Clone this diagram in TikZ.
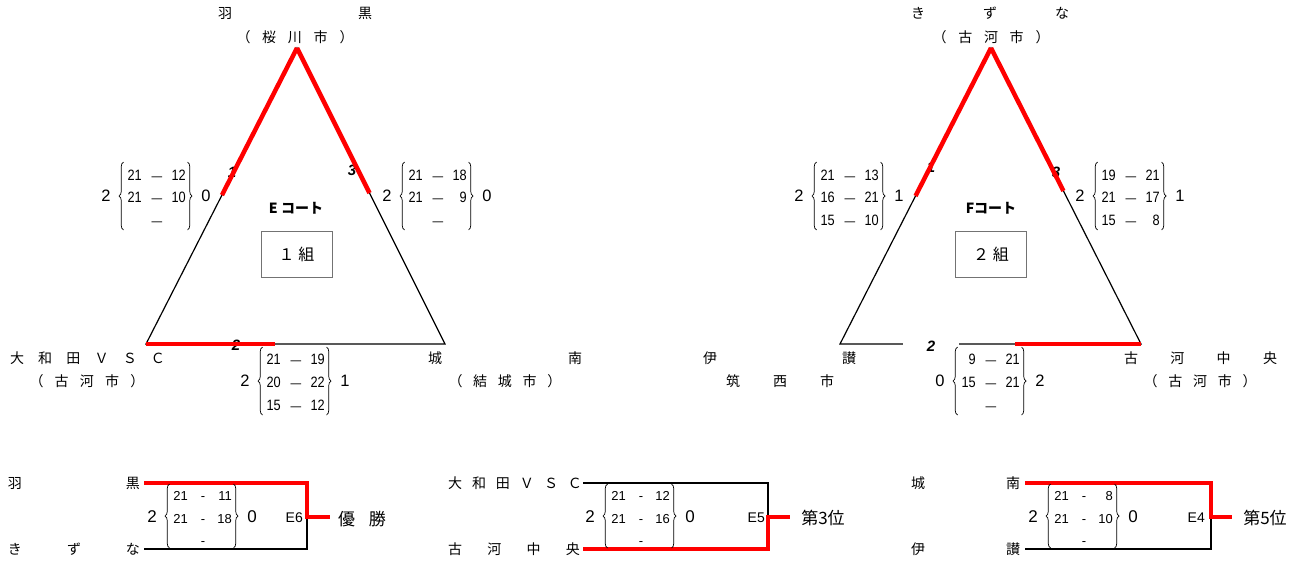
\documentclass[tikz,border=0pt]{standalone}
\usepackage{fontspec}
\setmainfont{Liberation Sans}
\newfontfamily\jp{Noto Sans CJK JP}
\newfontfamily\dg[FakeStretch=0.85]{Liberation Sans}
\usetikzlibrary{decorations.pathreplacing,calc}
\newcommand\spr[2]{\makebox[#1pt][s]{#2}}
\newcommand\mysblk[7]{%
  \draw[brc] (#2+2.5,#3+#4) -- (#2+2.5,#3-#4);
  \draw[brc] (#2+66.5,#3-#4) -- (#2+66.5,#3+#4);
  \node[#7] (#1l) at (#2-15,#3) {#5};
  \node[#7] (#1r) at (#2+85,#3) {#6};
}
\newcommand\mysrow[7]{%
  \node[#7, anchor=east] (#1a) at (#2+21,#3) {#4};
  \node[#7] (#1d) at (#2+36,#3) {#6};
  \node[#7, anchor=east] (#1b) at (#2+65,#3) {#5};
}
\newcommand\tdash{{\fontsize{12.5}{12}\selectfont —}}
\begin{document}
\begin{tikzpicture}[x=1pt,y=-1pt,
  tri/.style={line width=1.2pt},
  win/.style={red, line width=4.5pt},
  brk/.style={line width=1.8pt},
  bwin/.style={red, line width=3.3pt},
  brc/.style={decorate, decoration={brace, amplitude=4.5pt}, line width=0.7pt},
  nm/.style={font=\jp\fontsize{14}{14}\selectfont, inner sep=0pt},
  ind/.style={font=\dg\fontsize{15}{15}\selectfont, inner sep=0pt, text height=10.7pt, text depth=0pt},
  outn/.style={font=\fontsize{16.5}{16}\selectfont, inner sep=0pt, text height=11.8pt, text depth=0pt},
  bin/.style={font=\fontsize{13}{13}\selectfont, inner sep=0pt, text height=9.3pt, text depth=0pt},
  bout/.style={font=\fontsize{17}{17}\selectfont, inner sep=0pt, text height=12.2pt, text depth=0pt},
  sidelbl/.style={font=\bfseries\itshape\fontsize{15}{15}\selectfont, fill=white, minimum width=56pt, minimum height=14pt, inner sep=0pt},
  court/.style={font=\jp\bfseries\fontsize{14}{14}\selectfont, inner sep=0pt},
  grpbox/.style={draw=black!55, line width=0.6pt, minimum width=71pt, minimum height=46pt, font=\jp\fontsize{16}{16}\selectfont},
  elbl/.style={font=\fontsize{14}{14}\selectfont, inner sep=0pt, anchor=east},
  res/.style={font=\jp\fontsize{17}{17}\selectfont, inner sep=0pt}
]
\fill[white] (0,0) rectangle (1304,562);
\useasboundingbox (0,0) rectangle (1304,562);

% ---------- E court triangle ----------
\coordinate (EA) at (297,48);
\coordinate (EB) at (146,344);
\coordinate (EC) at (445,344);
\draw[tri] (EA) -- (EB) -- (EC) -- cycle;
\node[sidelbl] (e1lab) at (232,172) {1};
\node[sidelbl] (e3lab) at (352,170) {3};
\node[sidelbl] (e2lab) at (236,345) {2};
\coordinate (ER1) at ($(EA)!0.497!(EB)$);
\coordinate (ER3) at ($(EA)!0.49!(EC)$);
\coordinate (ER2) at ($(EB)!0.433!(EC)$);
\draw[win] (EA) -- (ER1);
\draw[win] (EA) -- (ER3);
\draw[win] (EB) -- (ER2);

\node[court] (ecourt) at (296,208) {E コート};
\node[grpbox] (egrp) at (296.5,254) {１ 組};

\node[nm] (eTn) at (295,13) {\spr{154}{羽\hfill 黒}};
\node[nm] (eTc) at (295,37) {\spr{117}{（\hfill 桜\hfill 川\hfill 市\hfill ）}};
\node[nm] (eLn) at (87.5,358) {\spr{155}{大\hfill 和\hfill 田\hfill Ｖ\hfill Ｓ\hfill Ｃ}};
\node[nm] (eLc) at (87,381) {\spr{115}{（\hfill 古\hfill 河\hfill 市\hfill ）}};
\node[nm] (eRn) at (505,358) {\spr{154}{城\hfill 南}};
\node[nm] (eRc) at (505,381) {\spr{113}{（\hfill 結\hfill 城\hfill 市\hfill ）}};

\mysblk{ea}{121}{196}{34}{2}{0}{outn}
\mysrow{ea1}{121}{175}{21}{12}{\tdash}{ind}
\mysrow{ea2}{121}{197}{21}{10}{\tdash}{ind}
\mysrow{ea3}{121}{220}{}{}{\tdash}{ind}

\mysblk{ec}{402}{196}{34}{2}{0}{outn}
\mysrow{ec1}{402}{175}{21}{18}{\tdash}{ind}
\mysrow{ec2}{402}{197}{21}{9}{\tdash}{ind}
\mysrow{ec3}{402}{220}{}{}{\tdash}{ind}

\mysblk{eb}{260}{381}{34}{2}{1}{outn}
\mysrow{eb1}{260}{359}{21}{19}{\tdash}{ind}
\mysrow{eb2}{260}{382}{20}{22}{\tdash}{ind}
\mysrow{eb3}{260}{405}{15}{12}{\tdash}{ind}

% ---------- F court triangle ----------
\coordinate (FA) at (991,48);
\coordinate (FB) at (840,344);
\coordinate (FC) at (1141,344);
\draw[tri] (FA) -- (FB) -- (FC) -- cycle;
\node[sidelbl] (f1lab) at (931,167) {1};
\node[sidelbl] (f3lab) at (1056,172) {3};
\node[sidelbl] (f2lab) at (931,346) {2};
\coordinate (FR1) at ($(FA)!0.5!(FB)$);
\coordinate (FR3) at ($(FA)!0.483!(FC)$);
\coordinate (FR2) at ($(FC)!0.419!(FB)$);
\draw[win] (FA) -- (FR1);
\draw[win] (FA) -- (FR3);
\draw[win] (FC) -- (FR2);

\node[court] (fcourt) at (991,208) {Fコート};
\node[grpbox] (fgrp) at (991,254) {２ 組};

\node[nm] (fTn) at (990,13) {\spr{158}{き\hfill ず\hfill な}};
\node[nm] (fTc) at (991,37) {\spr{117}{（\hfill 古\hfill 河\hfill 市\hfill ）}};
\node[nm] (fLn) at (779.5,358) {\spr{153}{伊\hfill 讃}};
\node[nm] (fLc) at (780,381) {\spr{108}{筑\hfill 西\hfill 市}};
\node[nm] (fRn) at (1200.5,358) {\spr{153}{古\hfill 河\hfill 中\hfill 央}};
\node[nm] (fRc) at (1200,381) {\spr{113}{（\hfill 古\hfill 河\hfill 市\hfill ）}};

\mysblk{fa}{814}{196}{34}{2}{1}{outn}
\mysrow{fa1}{814}{175}{21}{13}{\tdash}{ind}
\mysrow{fa2}{814}{197}{16}{21}{\tdash}{ind}
\mysrow{fa3}{814}{220}{15}{10}{\tdash}{ind}

\mysblk{fc}{1095}{196}{34}{2}{1}{outn}
\mysrow{fc1}{1095}{175}{19}{21}{\tdash}{ind}
\mysrow{fc2}{1095}{197}{21}{17}{\tdash}{ind}
\mysrow{fc3}{1095}{220}{15}{8}{\tdash}{ind}

\mysblk{fb}{955}{381}{34}{0}{2}{outn}
\mysrow{fb1}{955}{359}{9}{21}{\tdash}{ind}
\mysrow{fb2}{955}{382}{15}{21}{\tdash}{ind}
\mysrow{fb3}{955}{405}{}{}{\tdash}{ind}

% ---------- bottom brackets ----------
% E6
\node[nm] (g1n1) at (74,483) {\spr{132}{羽\hfill 黒}};
\node[nm] (g1n2) at (74,549) {\spr{132}{き\hfill ず\hfill な}};
\coordinate (g1a) at (144,483);
\coordinate (g1b) at (307,483);
\coordinate (g1m) at (307,517);
\coordinate (g1c) at (307,549);
\coordinate (g1d) at (144,549);
\coordinate (g1o) at (330,517);
\draw[brk] (g1m) -- (g1c) -- (g1d);
\draw[bwin] (g1a) -- (g1b) -- (g1m) -- (g1o);
\mysblk{g1s}{167}{516}{32}{2}{0}{bout}
\mysrow{g1r1}{167}{496}{21}{11}{-}{bin}
\mysrow{g1r2}{167}{519}{21}{18}{-}{bin}
\mysrow{g1r3}{167}{541}{}{}{-}{bin}
\node[elbl] (g1e) at (303,518) {E6};
\node[res] (g1res) at (362,519) {\spr{48}{優\hfill 勝}};

% E5
\node[nm] (g2n1) at (515,483) {\spr{134}{大\hfill 和\hfill 田\hfill Ｖ\hfill Ｓ\hfill Ｃ}};
\node[nm] (g2n2) at (514,549) {\spr{132}{古\hfill 河\hfill 中\hfill 央}};
\coordinate (g2a) at (583,483);
\coordinate (g2b) at (768,483);
\coordinate (g2m) at (768,517);
\coordinate (g2c) at (768,549);
\coordinate (g2d) at (583,549);
\coordinate (g2o) at (790,517);
\draw[brk] (g2a) -- (g2b) -- (g2m);
\draw[bwin] (g2d) -- (g2c) -- (g2m) -- (g2o);
\mysblk{g2s}{605}{516}{32}{2}{0}{bout}
\mysrow{g2r1}{605}{496}{21}{12}{-}{bin}
\mysrow{g2r2}{605}{519}{21}{16}{-}{bin}
\mysrow{g2r3}{605}{541}{}{}{-}{bin}
\node[elbl] (g2e) at (765,518) {E5};
\node[res] (g2res) at (823,518) {第3位};

% E4
\node[nm] (g3n1) at (965.5,483) {\spr{109}{城\hfill 南}};
\node[nm] (g3n2) at (965.5,549) {\spr{109}{伊\hfill 讃}};
\coordinate (g3a) at (1025,483);
\coordinate (g3b) at (1211,483);
\coordinate (g3m) at (1211,517);
\coordinate (g3c) at (1211,549);
\coordinate (g3d) at (1025,549);
\coordinate (g3o) at (1232,517);
\draw[brk] (g3m) -- (g3c) -- (g3d);
\draw[bwin] (g3a) -- (g3b) -- (g3m) -- (g3o);
\mysblk{g3s}{1048}{516}{32}{2}{0}{bout}
\mysrow{g3r1}{1048}{496}{21}{8}{-}{bin}
\mysrow{g3r2}{1048}{519}{21}{10}{-}{bin}
\mysrow{g3r3}{1048}{541}{}{}{-}{bin}
\node[elbl] (g3e) at (1205,518) {E4};
\node[res] (g3res) at (1265,518) {第5位};
\end{tikzpicture}
\end{document}
